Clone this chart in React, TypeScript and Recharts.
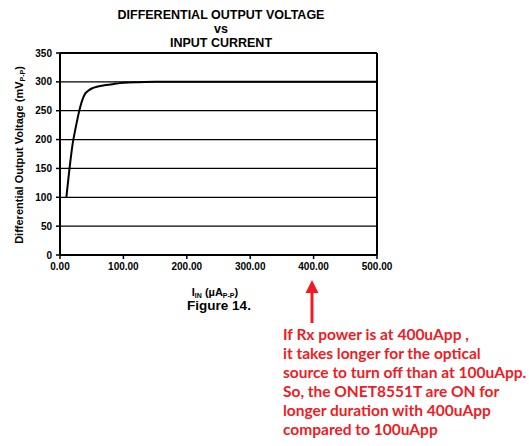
import React from 'react';
import { LineChart, Line, XAxis, YAxis, CartesianGrid, ReferenceLine } from 'recharts';

// values (uA p-p -> mV p-p)
const inputCurrent = [10, 15, 20, 25, 30, 35, 40, 45, 50, 60, 70, 80, 100, 125, 150, 200, 300, 400, 500];
const outputVoltage = [100, 150, 193, 222, 248, 268, 280, 285, 288.5, 292, 294, 295.5, 298.5, 299.5, 300, 300, 300, 300, 300];

const xTicks = [0, 100, 200, 300, 400, 500];
const yTicks = [0, 50, 100, 150, 200, 250, 300, 350];

const titleLines = ['DIFFERENTIAL OUTPUT VOLTAGE', 'vs', 'INPUT CURRENT'];
const noteLines = [
    'If Rx power is at 400uApp ,',
    'it takes longer for the optical',
    'source to turn off than at 100uApp.',
    'So, the ONET8551T are ON for',
    'longer duration with 400uApp',
    'compared to 100uApp',
];

const data = inputCurrent.map((x, i) => ({ x, v: outputVoltage[i] }));

const ARIAL = '"Liberation Sans", Arial, sans-serif';
const RED = '#ee1c24';

const tickStyle = { fill: '#000', fontSize: 10, fontWeight: 700, fontFamily: ARIAL };

const App: React.FC = () => {
    return (
        <div style={{ position: 'absolute', left: 0, top: 0, width: 529, height: 446, background: '#fff' }}>
            <LineChart width={529} height={446} data={data} margin={{ top: 53, right: 152, left: 0, bottom: 151 }}>
                <CartesianGrid vertical={false} stroke="#000" strokeWidth={1.3} />
                <XAxis
                    dataKey="x"
                    type="number"
                    domain={[0, 500]}
                    ticks={xTicks}
                    tickFormatter={(v: number) => v.toFixed(2)}
                    height={40}
                    axisLine={{ stroke: '#000', strokeWidth: 2 }}
                    tickLine={{ stroke: '#000', strokeWidth: 1.5 }}
                    tickSize={4}
                    tickMargin={4}
                    tick={tickStyle}
                    interval={0}
                />
                <YAxis
                    type="number"
                    domain={[0, 350]}
                    ticks={yTicks}
                    width={60}
                    axisLine={{ stroke: '#000', strokeWidth: 2 }}
                    tickLine={{ stroke: '#000', strokeWidth: 1.5 }}
                    tickSize={4}
                    tickMargin={4}
                    tick={tickStyle}
                    interval={0}
                />
                <ReferenceLine x={500} stroke="#000" strokeWidth={2} />
                <ReferenceLine y={350} stroke="#000" strokeWidth={2} />
                <Line
                    type="monotone"
                    dataKey="v"
                    stroke="#000"
                    strokeWidth={2}
                    dot={false}
                    isAnimationActive={false}
                />
            </LineChart>
            <svg width={529} height={446} style={{ position: 'absolute', left: 0, top: 0, pointerEvents: 'none' }}>
                <g fontFamily={ARIAL} fontWeight={700} fill="#000" textAnchor="middle">
                    {titleLines.map((t, i) => (
                        <text key={i} x={221} y={18.5 + i * 14} fontSize={12.5}>{t}</text>
                    ))}
                    <text transform="translate(23,155) rotate(-90)" fontSize={11}>
                        Differential Output Voltage (mV
                        <tspan fontSize={7} dy={2}>P-P</tspan>
                        <tspan dy={-2}>)</tspan>
                    </text>
                    <text x={215} y={296} fontSize={11}>
                        I<tspan fontSize={7} dy={2}>IN</tspan>
                        <tspan dy={-2}> (µA</tspan>
                        <tspan fontSize={7} dy={2}>P-P</tspan>
                        <tspan dy={-2}>)</tspan>
                    </text>
                    <text x={219} y={310} fontSize={13.5}>Figure 14.</text>
                </g>
                <line x1={312} y1={323} x2={312} y2={290} stroke={RED} strokeWidth={3} />
                <polygon points="305.5,293 318.5,293 312,280" fill={RED} />
                <g fontFamily='Lato, "Open Sans", sans-serif' fontWeight={700} fill={RED} fontSize={15.5}>
                    {noteLines.map((t, i) => (
                        <text key={i} x={283} y={340 + i * 19}>{t}</text>
                    ))}
                </g>
            </svg>
        </div>
    );
};

export default App;
